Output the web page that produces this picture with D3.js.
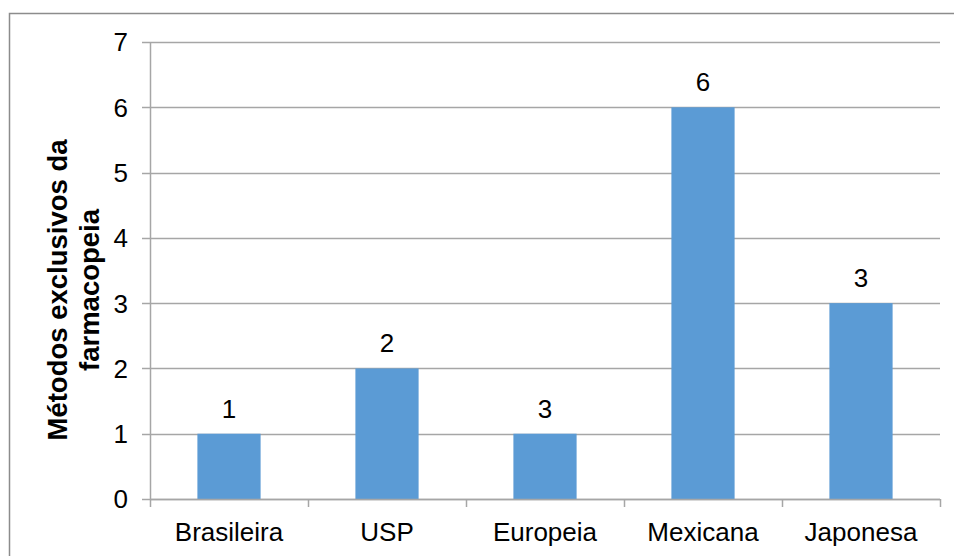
<!DOCTYPE html>
<html>
<head>
<meta charset="utf-8">
<script src="https://cdn.jsdelivr.net/npm/d3@7"></script>
<style>
  body { margin: 0; background: #fff; }
  text { font-family: "Liberation Sans", Arial, sans-serif; }
</style>
</head>
<body>
<div id="chart"></div>
<script>
const categories = ["Brasileira", "USP", "Europeia", "Mexicana", "Japonesa"];
const values = [1, 2, 1, 6, 3];
// labels as printed on the original (Europeia shows "3")
const valueLabels = ["1", "2", "3", "6", "3"];
const yTicks = [0, 1, 2, 3, 4, 5, 6, 7];

const width = 954, height = 556;
const plot = { left: 150, right: 940, top: 42, bottom: 499 };
const fs = 26;

const svg = d3.select("#chart")
  .append("svg")
  .attr("width", width)
  .attr("height", height);

// outer frame
svg.append("rect")
  .attr("x", 9.5).attr("y", 13.5)
  .attr("width", 960).attr("height", 560)
  .attr("fill", "none")
  .attr("stroke", "#8c8c8c")
  .attr("stroke-width", 1.5);

const x = d3.scaleBand()
  .domain(categories)
  .range([plot.left, plot.right])
  .paddingInner(0.6)
  .paddingOuter(0.3);

const y = d3.scaleLinear()
  .domain([0, 7])
  .range([plot.bottom, plot.top]);

const grey = "#a6a6a6";

// gridlines + y ticks
svg.append("g")
  .selectAll("line")
  .data(yTicks)
  .join("line")
  .attr("x1", plot.left - 8)
  .attr("x2", plot.right)
  .attr("y1", d => Math.round(y(d)) + 0.5)
  .attr("y2", d => Math.round(y(d)) + 0.5)
  .attr("stroke", grey)
  .attr("stroke-width", 1.5);

svg.append("g")
  .selectAll("text")
  .data(yTicks)
  .join("text")
  .attr("x", plot.left - 22)
  .attr("y", d => y(d))
  .attr("dy", "0.36em")
  .attr("text-anchor", "end")
  .attr("font-size", fs)
  .attr("fill", "#000")
  .text(d => d);

// y axis line
svg.append("line")
  .attr("x1", plot.left + 0.5).attr("x2", plot.left + 0.5)
  .attr("y1", plot.top).attr("y2", plot.bottom)
  .attr("stroke", grey)
  .attr("stroke-width", 1.5);

// bars
svg.append("g")
  .selectAll("rect")
  .data(values)
  .join("rect")
  .attr("x", (d, i) => x(categories[i]))
  .attr("y", d => y(d))
  .attr("width", x.bandwidth())
  .attr("height", d => y(0) - y(d))
  .attr("fill", "#5b9bd5");

// x axis baseline and ticks between categories
const boundaries = d3.range(categories.length + 1).map(i => plot.left + i * (plot.right - plot.left) / categories.length);
svg.append("line")
  .attr("x1", plot.left).attr("x2", plot.right)
  .attr("y1", plot.bottom + 0.5).attr("y2", plot.bottom + 0.5)
  .attr("stroke", grey)
  .attr("stroke-width", 1.5);
svg.append("g")
  .selectAll("line")
  .data(boundaries)
  .join("line")
  .attr("x1", d => d + 0.5).attr("x2", d => d + 0.5)
  .attr("y1", plot.bottom).attr("y2", plot.bottom + 8)
  .attr("stroke", grey)
  .attr("stroke-width", 1.5);

// category labels
svg.append("g")
  .selectAll("text")
  .data(categories)
  .join("text")
  .attr("x", d => x(d) + x.bandwidth() / 2)
  .attr("y", 541)
  .attr("text-anchor", "middle")
  .attr("font-size", fs)
  .attr("fill", "#000")
  .text(d => d);

// value labels
svg.append("g")
  .selectAll("text")
  .data(values)
  .join("text")
  .attr("x", (d, i) => x(categories[i]) + x.bandwidth() / 2)
  .attr("y", d => y(d) - 16)
  .attr("text-anchor", "middle")
  .attr("font-size", fs)
  .attr("fill", "#000")
  .text((d, i) => valueLabels[i]);

// y axis title
const title = svg.append("text")
  .attr("transform", "translate(67,290) rotate(-90)")
  .attr("text-anchor", "middle")
  .attr("font-size", 27.5)
  .attr("font-weight", "bold")
  .attr("fill", "#000");
title.append("tspan").attr("x", 0).attr("dy", 0).text("Métodos exclusivos da");
title.append("tspan").attr("x", 0).attr("dy", 32).text("farmacopeia");
</script>
</body>
</html>
